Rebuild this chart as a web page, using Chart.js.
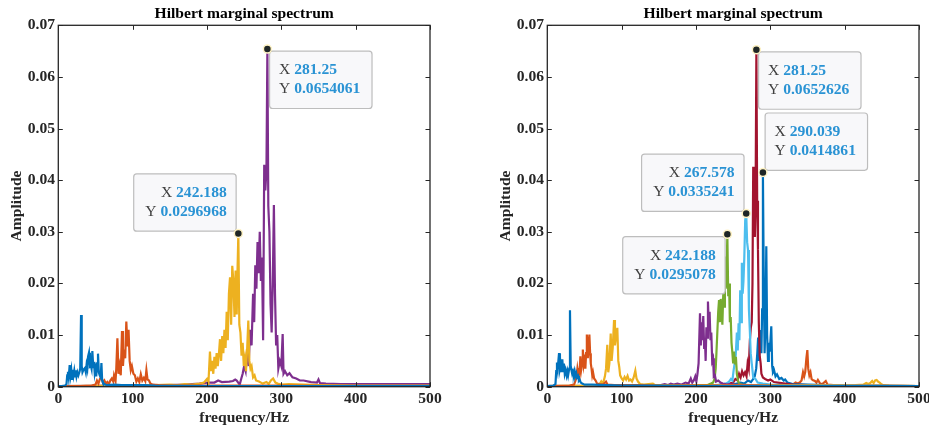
<!DOCTYPE html>
<html>
<head>
<meta charset="utf-8">
<script src="https://cdn.jsdelivr.net/npm/chart.js@4.4.1/dist/chart.umd.min.js"></script>
<style>
html, body { margin: 0; padding: 0; background: #fff; overflow: hidden; width: 929px; height: 429px; }
#left { position: absolute; left: 0; top: 0; }
#right { position: absolute; left: 464px; top: 0; }
</style>
</head>
<body>
<canvas id="left" width="464" height="429"></canvas>
<canvas id="right" width="480" height="429"></canvas>
<script>
// axis ticks
const xTickLabels = ['0', '100', '200', '300', '400', '500'];
const yTickLabels = ['0', '0.01', '0.02', '0.03', '0.04', '0.05', '0.06', '0.07'];
const plotTitle = 'Hilbert marginal spectrum';

// left panel: [frequency Hz, amplitude]
const leftBlue = [[0,0.0001],[5,0.0001],[9,0.0002],[11,0.0005],[12,0.0022],[13,0.0029],[14,0.0018],[15.3,0.0042],[16.5,0.0022],[17.5,0.0032],[18.5,0.0015],[19.5,0.0033],[20.5,0.0022],[21.5,0.0031],[22.5,0.002],[23.5,0.0032],[24.5,0.002],[25.7,0.0028],[27,0.0022],[28.5,0.0029],[29.5,0.0035],[30.6,0.0139],[31.5,0.004],[32.5,0.0028],[34,0.0033],[35.7,0.0036],[37,0.0028],[38,0.0042],[39,0.0035],[40,0.0058],[41.3,0.0066],[42.5,0.004],[43.6,0.0042],[44.7,0.0035],[45.8,0.0069],[47,0.0038],[48,0.0048],[49,0.0026],[50,0.0034],[51,0.002],[52.2,0.0045],[53.4,0.0064],[54.5,0.0028],[55.7,0.0022],[57,0.0018],[58,0.0046],[59,0.0012],[60,0.0008],[62,0.0005],[65,0.0003],[75,0.0004],[85,0.0003],[100,0.0003],[115,0.0003],[130,0.0002],[200,0.0001],[300,0.0001],[500,0.0001]];
const leftOrange = [[0,0.0001],[30,0.0001],[45,0.0002],[50,0.0004],[52,0.0012],[54,0.0006],[56,0.0015],[58,0.0019],[60,0.0008],[62,0.0012],[64,0.0006],[66,0.0009],[68,0.0005],[70,0.0012],[72,0.0016],[74,0.001],[75,0.0022],[77,0.0012],[78,0.0035],[79.5,0.0094],[81,0.0025],[82.5,0.004],[84,0.0022],[85.7,0.0108],[87,0.004],[88.4,0.0072],[90,0.0055],[91.5,0.0126],[93,0.0078],[94.5,0.011],[96,0.005],[97.5,0.0032],[99,0.004],[101,0.0025],[103,0.0022],[105,0.001],[107,0.0016],[109,0.0009],[111,0.0024],[113,0.0012],[115,0.0017],[117,0.0011],[118.5,0.0032],[120,0.0014],[122,0.0012],[124,0.0006],[127,0.0004],[135,0.0003],[150,0.0002],[200,0.0002],[250,0.0002],[300,0.0002],[400,0.0001],[500,0.0001]];
const leftYellow = [[0,0.0001],[100,0.0002],[130,0.0003],[150,0.0004],[160,0.0003],[170,0.0005],[180,0.0004],[190,0.0006],[196,0.0008],[200,0.0015],[202,0.0009],[204,0.0068],[205.5,0.003],[207,0.005],[208.5,0.0025],[210,0.0058],[211.5,0.0035],[213,0.0065],[214.5,0.004],[216,0.0062],[217.5,0.0092],[219,0.005],[220.5,0.0098],[222,0.0065],[223.5,0.011],[225,0.0075],[226.5,0.0145],[228,0.009],[229.5,0.018],[231,0.0212],[232.5,0.012],[234,0.0234],[235.5,0.0205],[237,0.0135],[238.5,0.0225],[240,0.014],[241,0.022],[242.188,0.0296968],[243.5,0.012],[245,0.0105],[246.5,0.006],[248,0.0085],[249.5,0.004],[251,0.0055],[252.5,0.003],[254,0.0072],[255.6,0.0128],[257,0.005],[258.5,0.0035],[260,0.004],[262,0.0018],[264,0.0022],[266,0.0012],[270,0.001],[275,0.0006],[280,0.0009],[283,0.0005],[286,0.0012],[289,0.0016],[292,0.0008],[295,0.0006],[300,0.0004],[310,0.0005],[330,0.0004],[350,0.0003],[400,0.0002],[450,0.0002],[500,0.0002]];
const leftPurple = [[0,0.0001],[100,0.0002],[150,0.0003],[170,0.0004],[190,0.0006],[200,0.0008],[210,0.0008],[215,0.0012],[220,0.0009],[230,0.001],[235,0.0011],[238,0.0014],[240,0.0012],[242,0.0008],[244,0.0004],[246,0.0015],[248,0.0025],[250,0.004],[252,0.003],[254,0.007],[256,0.004],[258,0.011],[260,0.008],[262,0.018],[263.5,0.0125],[265,0.0235],[266.5,0.019],[268,0.028],[269.5,0.022],[271,0.03],[272.5,0.0205],[274,0.025],[275.5,0.009],[277,0.043],[278.5,0.038],[280,0.042],[281.25,0.0654061],[282.5,0.035],[284,0.03],[285.5,0.016],[287,0.0105],[288.5,0.02],[290,0.0352],[291.5,0.018],[293,0.008],[294.5,0.01],[296,0.0035],[298,0.005],[300,0.004],[301.8,0.0102],[303,0.0025],[305,0.003],[308,0.0022],[311,0.0026],[315,0.0018],[320,0.0016],[325,0.0012],[330,0.0012],[340,0.0009],[348,0.0008],[350,0.0014],[352,0.0007],[360,0.0006],[380,0.0005],[400,0.0005],[450,0.0005],[500,0.0005]];

// right panel
const rightBlue1 = [[0,0.0001],[8,0.0002],[11,0.0005],[12,0.003],[13,0.0047],[14,0.0035],[15.8,0.0065],[17,0.0035],[18,0.0042],[19,0.0028],[20.2,0.0053],[21.3,0.003],[22.4,0.0045],[23.5,0.0025],[24.7,0.0032],[26,0.0022],[27,0.003],[28,0.0022],[29.5,0.0035],[30.5,0.0148],[31.5,0.004],[32.5,0.0032],[33.5,0.0025],[34.6,0.003],[35.7,0.0024],[36.8,0.0031],[38,0.0022],[39,0.0026],[40,0.0018],[41.3,0.0021],[42.5,0.0012],[43.5,0.0014],[45,0.0008],[47,0.0006],[50,0.0004],[60,0.0004],[80,0.0003],[100,0.0002],[150,0.0002],[200,0.0001],[300,0.0001],[500,0.0001]];
const rightOrange1 = [[0,0.0001],[30,0.0002],[36,0.0004],[38,0.0012],[39.5,0.0022],[40.5,0.0035],[41.5,0.0025],[42.5,0.0036],[43.5,0.0028],[44.5,0.0059],[45.8,0.0035],[46.8,0.0045],[47.8,0.0072],[49,0.0042],[50,0.005],[51.2,0.0035],[52.2,0.0065],[53.2,0.0101],[54.5,0.0055],[55.5,0.0078],[56.6,0.0101],[57.6,0.0065],[58.5,0.0045],[59.5,0.0035],[60.5,0.0022],[61.5,0.0028],[63,0.0016],[65,0.0012],[67,0.0006],[70,0.0005],[75,0.0004],[79,0.001],[81,0.0004],[90,0.0003],[100,0.0003],[120,0.0003],[150,0.0002],[200,0.0002],[250,0.0002],[300,0.0001],[500,0.0001]];
const rightYellow1 = [[0,0.0001],[50,0.0002],[65,0.0003],[70,0.0004],[72.5,0.001],[74,0.0006],[76,0.0012],[77.5,0.002],[79,0.0035],[80.7,0.0081],[82,0.0028],[83.5,0.0045],[85.3,0.0103],[86.5,0.005],[88,0.0075],[89.8,0.0129],[91,0.008],[92.5,0.0098],[94.2,0.0114],[95.5,0.005],[96.8,0.0038],[98,0.0022],[100,0.0016],[102,0.0012],[104,0.0019],[106,0.0014],[108,0.0021],[110,0.0012],[112,0.0014],[114,0.001],[116,0.0017],[118.4,0.0031],[120,0.0016],[122,0.001],[125,0.0005],[130,0.0004],[142,0.0006],[145,0.0003],[160,0.0003],[200,0.0002],[300,0.0002],[400,0.0002],[500,0.0001]];
const rightPurple = [[0,0.0001],[100,0.0001],[150,0.0002],[158,0.0005],[162,0.0003],[166,0.0006],[170,0.0004],[175,0.0006],[180,0.0004],[186,0.0008],[190,0.0006],[193,0.0016],[195,0.0008],[197,0.0012],[199,0.002],[200.5,0.001],[202,0.0025],[203.5,0.0045],[205.4,0.0142],[206.5,0.008],[207.5,0.0125],[208.5,0.009],[209.8,0.0137],[211,0.0075],[212,0.0095],[213,0.005],[214,0.0115],[215,0.0095],[216.1,0.0165],[217.2,0.012],[218.3,0.0145],[219.5,0.009],[220.6,0.0105],[221.8,0.005],[223,0.0055],[224,0.002],[225.5,0.0022],[227,0.001],[230,0.0012],[233,0.0008],[236,0.0006],[240,0.0005],[250,0.0004],[270,0.0003],[300,0.0002],[400,0.0001],[500,0.0001]];
const rightGreen = [[0,0.0001],[100,0.0001],[200,0.0002],[215,0.0003],[220,0.0006],[223,0.0008],[225,0.0015],[226.5,0.0035],[227.5,0.0065],[228.7,0.0105],[229.9,0.0145],[231,0.0168],[232.2,0.0125],[233.3,0.017],[234.4,0.0145],[235.5,0.012],[236.7,0.018],[237.8,0.0155],[238.9,0.0252],[240,0.019],[241,0.0205],[242.188,0.0295078],[243.4,0.0175],[244.5,0.02],[245.6,0.0125],[246.7,0.0135],[247.8,0.0085],[249,0.0065],[250,0.0045],[251.2,0.0068],[252.5,0.0045],[253.7,0.0058],[255,0.0025],[256.5,0.0012],[258,0.0006],[262,0.0004],[270,0.0003],[300,0.0002],[400,0.0001],[500,0.0001]];
const rightCyan = [[0,0.0001],[100,0.0001],[200,0.0002],[230,0.0003],[240,0.0006],[244,0.0009],[247,0.0015],[249,0.0012],[250.5,0.003],[252,0.0045],[253.5,0.0062],[255,0.0105],[256.2,0.007],[257.3,0.0123],[258.4,0.009],[259.5,0.0187],[260.6,0.0125],[261.7,0.024],[262.8,0.018],[263.9,0.0205],[265,0.025],[266.2,0.0322],[267.578,0.0335241],[268.8,0.028],[270,0.0265],[271.2,0.015],[272.4,0.011],[273.6,0.0065],[275,0.0045],[277,0.0018],[280,0.0015],[283,0.0008],[290,0.0006],[300,0.0004],[320,0.0003],[400,0.0002],[500,0.0001]];
const rightDarkRed = [[0,0.0001],[100,0.0001],[200,0.0002],[230,0.0003],[245,0.0006],[250,0.0008],[253,0.0015],[256,0.0012],[258,0.0025],[260,0.0018],[262,0.003],[264,0.0022],[266,0.0028],[268,0.002],[269.5,0.0045],[271,0.0035],[272.5,0.009],[273.8,0.0115],[275,0.0125],[276,0.02],[277,0.0426],[278,0.039],[279.2,0.029],[280.2,0.037],[281.25,0.0652626],[282.3,0.036],[283.4,0.0265],[284.5,0.0125],[285.7,0.006],[287,0.0045],[288,0.0025],[290,0.0018],[293,0.0015],[297,0.0012],[300,0.0014],[305,0.0009],[310,0.0008],[320,0.0006],[330,0.0004],[350,0.0003],[400,0.0002],[500,0.0001]];
const rightBlue2 = [[0,0.0001],[200,0.0002],[250,0.0004],[260,0.0008],[265,0.0006],[270,0.0012],[274,0.0009],[277,0.0015],[279,0.002],[281,0.0035],[282.5,0.0065],[283.6,0.0095],[284.7,0.005],[285.8,0.011],[287,0.0075],[288,0.0065],[289,0.015],[290.039,0.0414861],[291.2,0.02],[292.3,0.0065],[293.4,0.012],[294.6,0.0272],[295.7,0.01],[296.9,0.005],[298,0.0085],[299,0.0068],[300.2,0.009],[301.3,0.0117],[302.5,0.004],[303.6,0.0028],[305,0.0032],[307,0.002],[309,0.0024],[312,0.0015],[315,0.0017],[318,0.0012],[320,0.0014],[323,0.0008],[330,0.0005],[350,0.0004],[400,0.0002],[500,0.0001]];
const rightOrange2 = [[0,0.0001],[300,0.0002],[320,0.0003],[330,0.0004],[334,0.0008],[337,0.0006],[340,0.0009],[342,0.0012],[344,0.0028],[345.5,0.002],[347,0.0029],[348.5,0.0055],[349.8,0.0071],[351,0.0035],[352.5,0.0022],[354,0.0028],[355.5,0.0015],[357,0.0013],[360,0.0011],[362,0.0008],[364,0.0013],[367,0.0006],[370,0.0005],[374.6,0.0011],[377,0.0004],[385,0.0003],[400,0.0002],[500,0.0001]];
const rightYellow2 = [[0,0.0001],[300,0.0001],[400,0.0002],[415,0.0003],[425,0.0004],[429,0.0007],[432,0.0005],[435,0.0008],[437,0.0011],[439,0.0007],[441,0.0012],[443,0.0013],[445,0.001],[447,0.0008],[449,0.0005],[452,0.0003],[460,0.0002],[500,0.0001]];

// data tips: x, y, where the box sits relative to the point
const leftTips = [
  { x: 281.25, y: 0.0654061, dir: 'se' },
  { x: 242.188, y: 0.0296968, dir: 'nw' }
];
const rightTips = [
  { x: 281.25, y: 0.0652626, dir: 'se' },
  { x: 290.039, y: 0.0414861, dir: 'ne' },
  { x: 267.578, y: 0.0335241, dir: 'nw' },
  { x: 242.188, y: 0.0295078, dir: 'sw' }
];

const C = {
  blue: '#0072BD', orange: '#D95319', yellow: '#EDB120', purple: '#7E2F8E',
  green: '#77AC30', cyan: '#4DBEEE', darkred: '#A2142F'
};
const AXIS = '#262626';
const FS = 15.6;
const SERIF = '"Liberation Serif", "Times New Roman", serif';

const fmt = v => String(Number(v.toPrecision(6)));

// box, inward ticks, title over the axes, and data tips
const axesPlugin = {
  id: 'matlabAxes',
  afterDatasetsDraw(chart) {
    const { ctx, chartArea: a, scales: { x, y } } = chart;
    ctx.save();
    ctx.strokeStyle = AXIS;
    ctx.lineWidth = 1;
    ctx.beginPath();
    x.ticks.forEach(t => {
      const p = Math.round(x.getPixelForValue(t.value)) + 0.5;
      ctx.moveTo(p, a.bottom); ctx.lineTo(p, a.bottom - 4.5);
      ctx.moveTo(p, a.top); ctx.lineTo(p, a.top + 4.5);
    });
    y.ticks.forEach(t => {
      const p = Math.round(y.getPixelForValue(t.value)) + 0.5;
      ctx.moveTo(a.left, p); ctx.lineTo(a.left + 4.5, p);
      ctx.moveTo(a.right, p); ctx.lineTo(a.right - 4.5, p);
    });
    ctx.stroke();
    ctx.lineWidth = 1.3;
    ctx.strokeRect(a.left, a.top, a.right - a.left, a.bottom - a.top);

    // title centred on the axes box, like MATLAB
    ctx.font = 'bold ' + FS + 'px ' + SERIF;
    ctx.fillStyle = '#000';
    ctx.textAlign = 'center';
    ctx.textBaseline = 'middle';
    ctx.fillText(plotTitle, (a.left + a.right) / 2, a.top - 11.3);

    const tips = chart.options.plugins.matlabAxes.tips;
    tips.forEach(t => {
      const px = x.getPixelForValue(t.x), py = y.getPixelForValue(t.y);
      const rows = [['X ', fmt(t.x)], ['Y ', fmt(t.y)]];
      const normal = FS + 'px ' + SERIF, bold = 'bold ' + FS + 'px ' + SERIF;
      const widths = rows.map(r => {
        ctx.font = normal; const w1 = ctx.measureText(r[0]).width;
        ctx.font = bold; const w2 = ctx.measureText(r[1]).width;
        return [w1, w2];
      });
      const tw = Math.max(...widths.map(w => w[0] + w[1]));
      const bw = tw + 21, bh = 57.3, gap = 2.2;
      const east = t.dir.includes('e');
      const bx = east ? px + gap : px - gap - bw;
      const by = t.dir.includes('s') ? py + gap : py - gap - bh;
      ctx.beginPath();
      ctx.roundRect(bx, by, bw, bh, 3);
      ctx.fillStyle = 'rgba(248,248,250,0.97)';
      ctx.fill();
      ctx.strokeStyle = '#bdbdbd';
      ctx.lineWidth = 1.2;
      ctx.stroke();
      ctx.textBaseline = 'middle';
      ctx.textAlign = 'left';
      rows.forEach((r, i) => {
        const ly = by + 19 + i * 19;
        const w = widths[i][0] + widths[i][1];
        const sx = east ? bx + 9.4 : bx + bw - 9.4 - w;
        ctx.font = normal; ctx.fillStyle = '#404040';
        ctx.fillText(r[0], sx, ly);
        ctx.font = bold; ctx.fillStyle = '#2a93d4';
        ctx.fillText(r[1], sx + widths[i][0], ly);
      });
      ctx.beginPath();
      ctx.arc(px, py, 4, 0, Math.PI * 2);
      ctx.fillStyle = '#1f2626';
      ctx.fill();
      ctx.strokeStyle = '#fff3c4';
      ctx.lineWidth = 1.5;
      ctx.stroke();
    });
    ctx.restore();
  }
};

function makeChart(id, series, tips, padLeft, padRight) {
  return new Chart(document.getElementById(id), {
    type: 'line',
    data: {
      datasets: series.map(s => ({
        data: s.pts.map(p => ({ x: p[0], y: p[1] })),
        borderColor: s.color,
        borderWidth: 2.2,
        pointRadius: 0,
        tension: 0,
        fill: false
      }))
    },
    options: {
      responsive: false,
      animation: false,
      events: [],
      layout: { padding: { left: padLeft, right: padRight, top: 25.3, bottom: 0 } },
      plugins: {
        legend: { display: false },
        tooltip: { enabled: false },
        title: { display: false },
        matlabAxes: { tips: tips }
      },
      scales: {
        x: {
          type: 'linear', min: 0, max: 500,
          grid: { display: false, drawTicks: false, tickLength: 0 }, border: { display: false },
          ticks: {
            stepSize: 100, color: AXIS, padding: 2.94, maxRotation: 0,
            font: { family: SERIF, size: FS, weight: 'bold' },
            callback: (v, i) => xTickLabels[i]
          },
          title: {
            display: true, text: 'frequency/Hz', color: AXIS,
            font: { family: SERIF, size: FS, weight: 'bold' },
            padding: { top: 0, bottom: 1.34 }
          },
          afterFit: s => { s.height = 42.3; }
        },
        y: {
          min: 0, max: 0.07,
          grid: { display: false, drawTicks: false, tickLength: 0 }, border: { display: false },
          ticks: {
            stepSize: 0.01, color: AXIS, padding: 3.3,
            font: { family: SERIF, size: FS, weight: 'bold' },
            callback: (v, i) => yTickLabels[i]
          },
          title: {
            display: true, text: 'Amplitude', color: AXIS,
            font: { family: SERIF, size: FS, weight: 'bold' },
            padding: { top: 7.34, bottom: 0 }
          },
          afterFit: s => { s.width = 58.3; }
        }
      }
    },
    plugins: [axesPlugin]
  });
}

makeChart('left', [
  { pts: leftBlue, color: C.blue },
  { pts: leftOrange, color: C.orange },
  { pts: leftYellow, color: C.yellow },
  { pts: leftPurple, color: C.purple }
], leftTips, 0, 34);

makeChart('right', [
  { pts: rightBlue1, color: C.blue },
  { pts: rightOrange1, color: C.orange },
  { pts: rightYellow1, color: C.yellow },
  { pts: rightPurple, color: C.purple },
  { pts: rightGreen, color: C.green },
  { pts: rightCyan, color: C.cyan },
  { pts: rightDarkRed, color: C.darkred },
  { pts: rightBlue2, color: C.blue },
  { pts: rightOrange2, color: C.orange },
  { pts: rightYellow2, color: C.yellow }
], rightTips, 25, 25);
</script>
</body>
</html>
